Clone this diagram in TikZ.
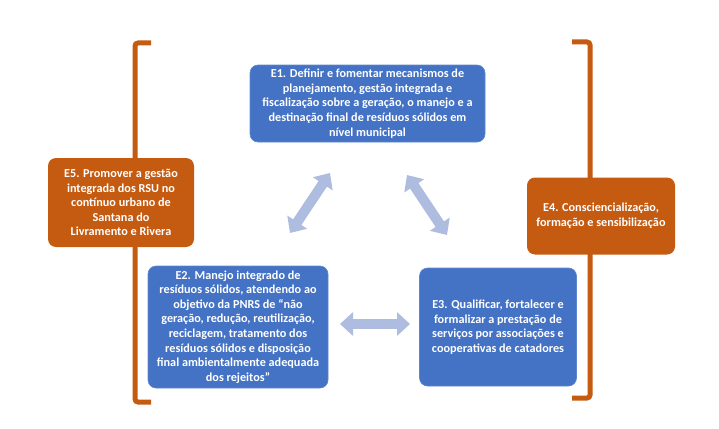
\documentclass[tikz,border=0pt]{standalone}
\usepackage{fontspec}
\setmainfont{Carlito}
\usetikzlibrary{arrows.meta,positioning,calc}
\definecolor{boxblue}{RGB}{68,114,196}
\definecolor{boxorange}{RGB}{197,90,17}
\definecolor{arrowblue}{RGB}{174,188,224}

\begin{document}
\begin{tikzpicture}[x=1pt, y=-1pt,
  box/.style={rounded corners=8pt, align=center, inner sep=2pt, text=white,
    font=\fontsize{12.2}{14.6}\selectfont\bfseries},
  bluebox/.style={box, fill=boxblue, draw=boxblue!85!white, line width=0.6pt},
  orangebox/.style={box, fill=boxorange},
  bracket/.style={draw=boxorange, line width=5pt, rounded corners=3pt},
  bigarrow/.style={draw=arrowblue, line width=10pt,
    {Triangle[width=23pt,length=13pt]}-{Triangle[width=23pt,length=13pt]}},
]
  \useasboundingbox (0,0) rectangle (719,428);

  % side brackets
  \draw[bracket] (151,43) -- (135,43) -- (135,402) -- (151,402);
  \draw[bracket] (572,42) -- (590,42) -- (590,398) -- (572,398);

  % objectives
  \node[bluebox, minimum width=235pt, minimum height=77pt] (e1) at (367.5,103.5)
    {E1. Definir e fomentar mecanismos de\\planejamento, gestão integrada e\\fiscalização sobre a geração, o manejo e a\\destinação final de resíduos sólidos em\\nível municipal};
  \node[orangebox, minimum width=146pt, minimum height=89pt] (e5) at (121,202.5)
    {E5. Promover a gestão\\integrada dos RSU no\\contínuo urbano de\\Santana do\\Livramento e Rivera};
  \node[bluebox, minimum width=180pt, minimum height=122pt] (e2) at (238,327)
    {E2. Manejo integrado de\\resíduos sólidos, atendendo ao\\objetivo da PNRS de “não\\geração, redução, reutilização,\\reciclagem, tratamento dos\\resíduos sólidos e disposição\\final ambientalmente adequada\\dos rejeitos”};
  \node[bluebox, minimum width=157pt, minimum height=118pt] (e3) at (498,327)
    {E3. Qualificar, fortalecer e\\formalizar a prestação de\\serviços por associações e\\cooperativas de catadores};
  \node[orangebox, minimum width=148pt, minimum height=77pt] (e4) at (601,216)
    {E4. Consciencialização,\\formação e sensibilização};

  % links between objectives
  \coordinate (e2top) at (290,233);
  \coordinate (e1left) at (330,173);
  \coordinate (e1right) at (407,175);
  \coordinate (e3top) at (447,235);
  \coordinate (e2right) at (340,324);
  \coordinate (e3left) at (410,324);
  \draw[bigarrow] (e2top) -- (e1left);
  \draw[bigarrow] (e1right) -- (e3top);
  \draw[bigarrow] (e2right) -- (e3left);
\end{tikzpicture}
\end{document}
